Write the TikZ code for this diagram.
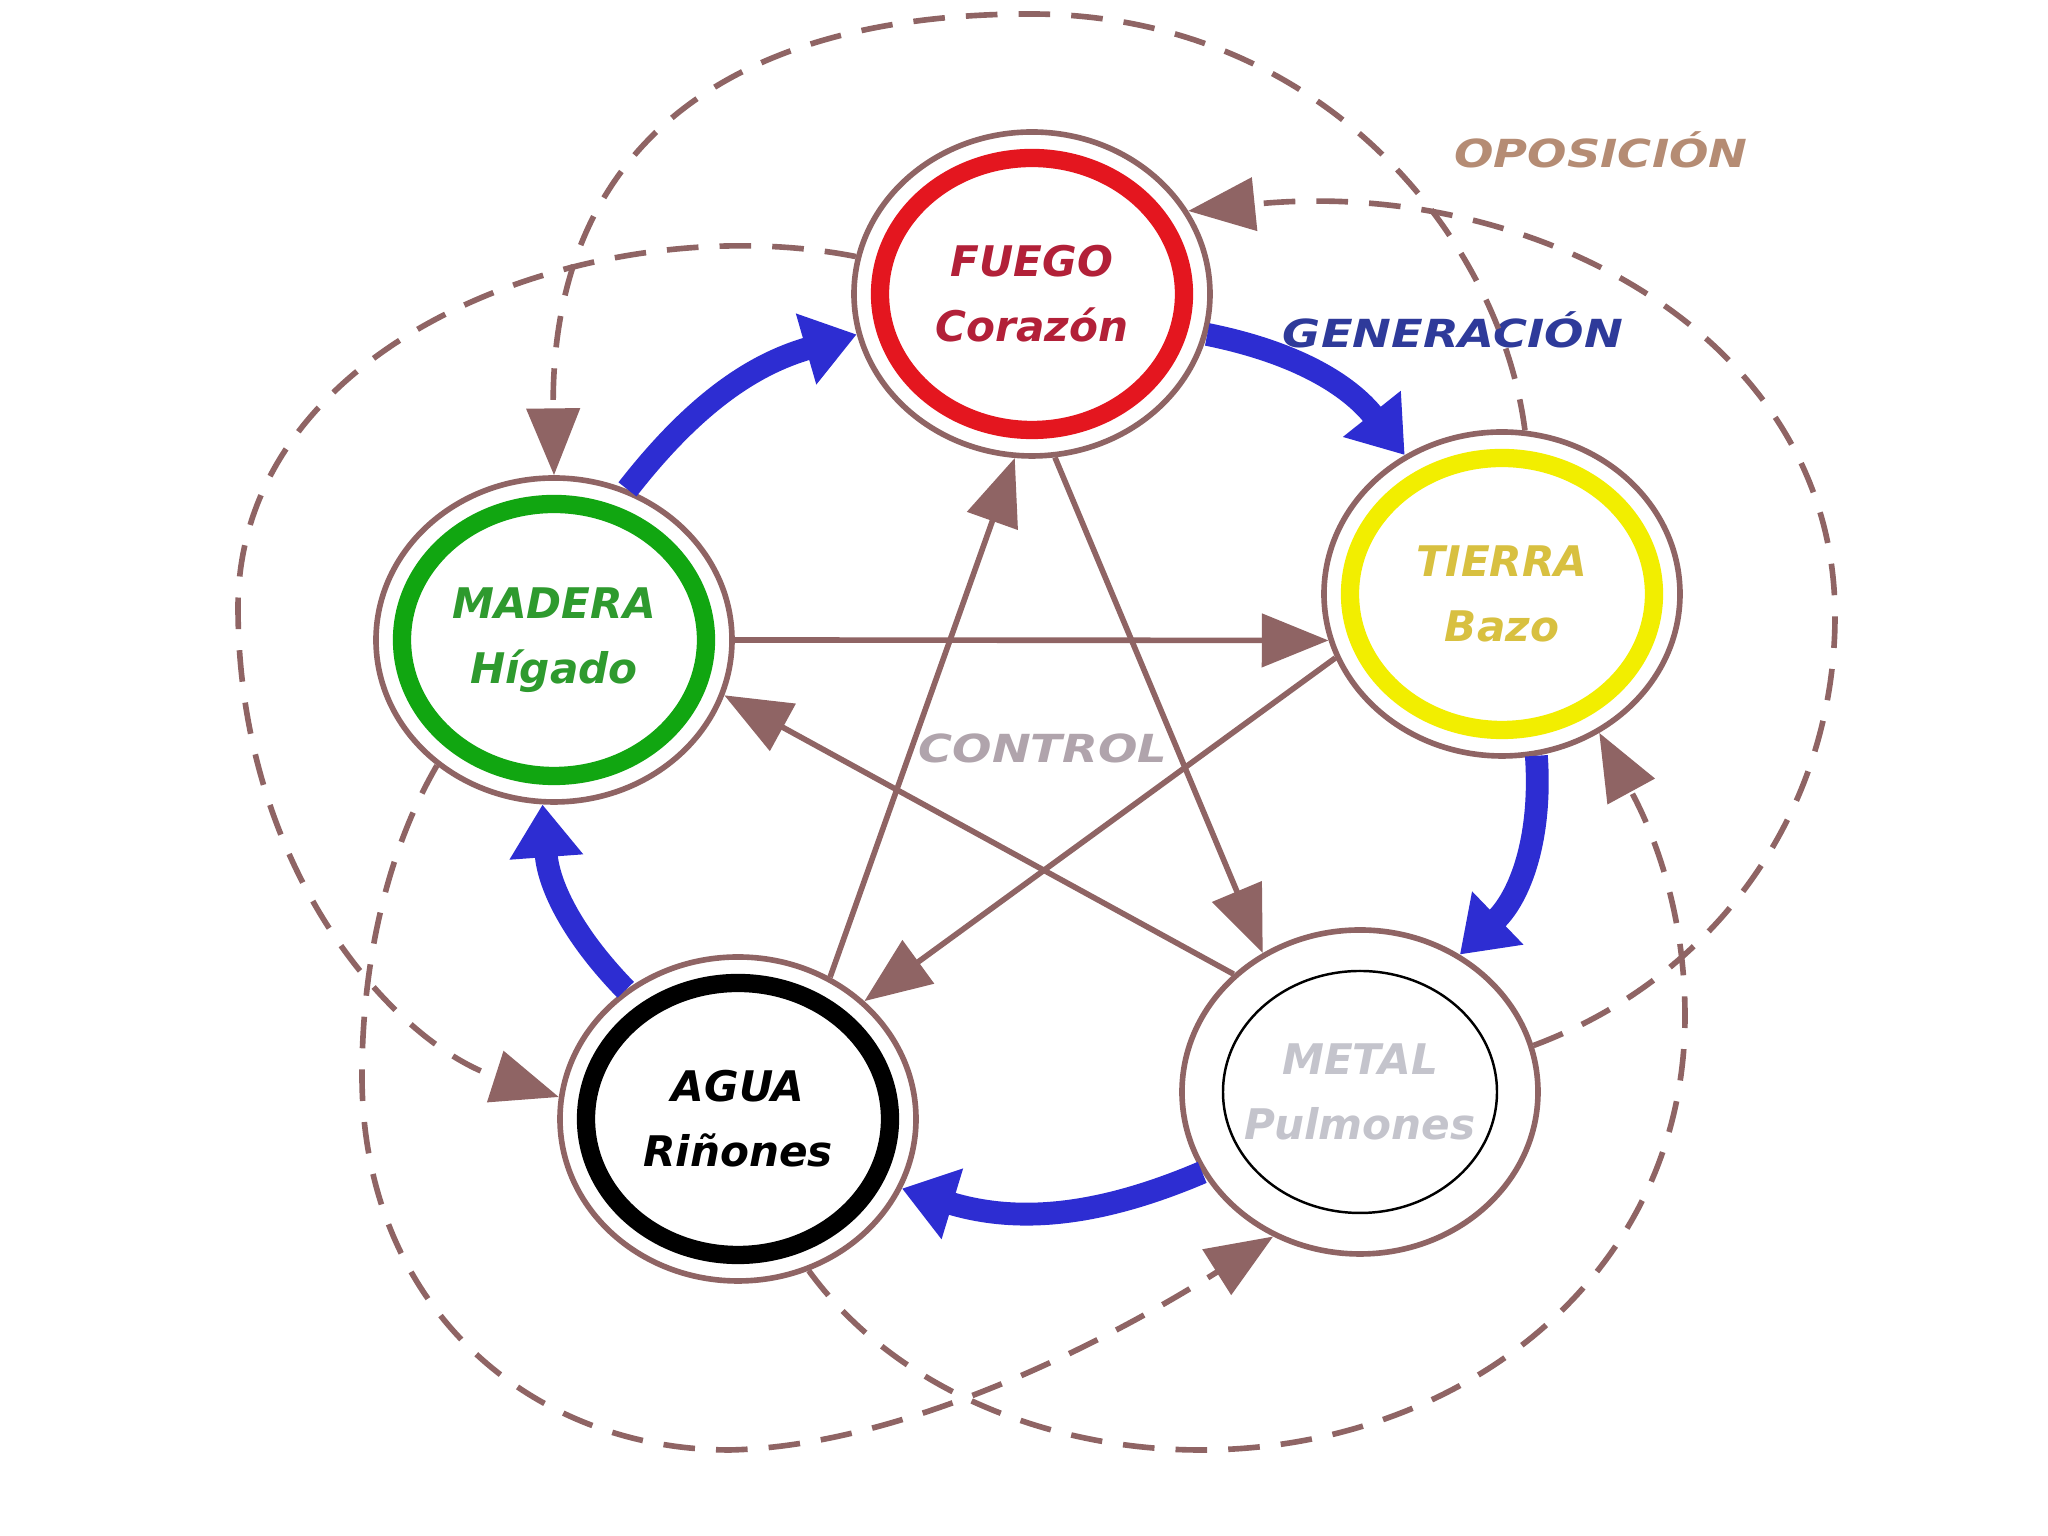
\documentclass[tikz,border=0pt]{standalone}
\usepackage{fontspec}
\setmainfont{DejaVu Sans}
\newfontfamily\widefont[FakeStretch=1.2]{DejaVu Sans}
\usetikzlibrary{arrows.meta, shapes.geometric}
\definecolor{linebrown}{RGB}{143,100,100}
\definecolor{genblue}{RGB}{45,45,210}
\definecolor{fuegotext}{RGB}{178,32,56}
\definecolor{fuegoring}{RGB}{228,22,31}
\definecolor{maderatext}{RGB}{46,154,46}
\definecolor{maderaring}{RGB}{17,166,17}
\definecolor{tierratext}{RGB}{216,192,64}
\definecolor{tierraring}{RGB}{242,238,0}
\definecolor{metaltext}{RGB}{196,196,204}
\definecolor{gentext}{RGB}{46,58,154}
\definecolor{opotext}{RGB}{181,140,116}
\definecolor{ctrltext}{RGB}{176,164,172}

\begin{document}
\begin{tikzpicture}[
    elem/.style={ellipse, draw=linebrown, line width=1.6pt, minimum width=3.56cm, minimum height=3.24cm,
        inner sep=0pt, align=center, font=\fontsize{12}{18.5}\selectfont\bfseries\itshape},
    ring/.style={line width=5.2pt},
    gen/.style={genblue, line width=6.5pt, -{Triangle[length=15pt, width=20pt]}},
    ctrl/.style={linebrown, line width=1.6pt, -{Triangle[length=19pt, width=15pt]}},
    opp/.style={linebrown, line width=1.6pt, dash pattern=on 9pt off 6pt, -{Triangle[length=19pt, width=15pt]}},
    tag/.style={font=\widefont\fontsize{11}{14}\selectfont\bfseries\itshape},
]
\fill[white] (0,0) rectangle (20.48,15.36);
\useasboundingbox (0,0) rectangle (20.48,15.36);

% ============================================================
% ELEMENTS
% ============================================================
\node[elem, text=fuegotext] (fuego) at (10.32,12.42) {FUEGO\\Corazón};
\node[elem, text=tierratext] (tierra) at (15.02,9.42) {TIERRA\\Bazo};
\node[elem, text=metaltext] (metal) at (13.60,4.44) {METAL\\Pulmones};
\node[elem, text=black] (agua) at (7.38,4.17) {AGUA\\Riñones};
\node[elem, text=maderatext] (madera) at (5.54,8.96) {MADERA\\Hígado};

% Inner rings
\draw[ring, fuegoring] (fuego.center) ellipse [x radius=1.52cm, y radius=1.36cm];
\draw[ring, tierraring] (tierra.center) ellipse [x radius=1.52cm, y radius=1.36cm];
\draw[ring, black] (agua.center) ellipse [x radius=1.52cm, y radius=1.36cm];
\draw[ring, maderaring] (madera.center) ellipse [x radius=1.52cm, y radius=1.36cm];
\draw[black, line width=0.7pt] (metal.center) ellipse [x radius=1.37cm, y radius=1.21cm];

% ============================================================
% LABELS
% ============================================================
\node[tag, text=gentext] (lblgen) at (14.53,12.06) {GENERACIÓN};
\node[tag, text=opotext] (lblopo) at (16.01,13.86) {OPOSICIÓN};
\node[tag, text=ctrltext] (lblctrl) at (10.43,7.88) {CONTROL};

% --- Generation cycle ---
\draw[gen] (fuego.-13) to[bend left=20] (tierra.125);
\draw[gen] (tierra.-78) to[bend left=25] (metal.54);
\draw[gen] (metal.207) to[bend left=20] (agua.-23);
\draw[gen] (agua.131) to[bend left=20] (madera.266);
\draw[gen] (madera.64) to[bend left=18] (fuego.193);

% --- Control star ---
\draw[ctrl] (agua.57) -- (fuego.264);
\draw[ctrl] (fuego.278) -- (metal.125);
\draw[ctrl] (madera.0) -- (tierra.195);
\draw[ctrl] (tierra.201) -- (agua.43);
\draw[ctrl] (metal.137) -- (madera.-18);

% --- Opposition arcs ---
% Tierra to Madera
\draw[opp] (tierra.82) .. controls (15.0,13.0) and (13.2,15.22) .. (10.3,15.22)
    .. controls (7.3,15.22) and (5.5,13.9) .. (madera.90);
% Metal to Fuego
\draw[opp] (metal.15) .. controls (17.2,5.6) and (18.35,7.3) .. (18.35,9.2)
    .. controls (18.35,12.0) and (15.3,13.6) .. (fuego.28);
% Agua to Tierra
\draw[opp] (agua.-65) .. controls (9.0,1.4) and (10.6,0.86) .. (12.0,0.86)
    .. controls (14.6,0.86) and (16.85,2.6) .. (16.85,5.2)
    .. controls (16.85,6.3) and (16.5,7.1) .. (tierra.-55);
% Madera to Metal
\draw[opp] (madera.227) .. controls (3.9,6.9) and (3.62,5.8) .. (3.62,4.6)
    .. controls (3.62,2.3) and (5.3,0.86) .. (7.3,0.86)
    .. controls (9.0,0.9) and (11.0,1.9) .. (metal.239);
% Fuego to Agua
\draw[opp] (fuego.168) .. controls (6.0,13.3) and (2.4,12.0) .. (2.38,9.3)
    .. controls (2.38,6.6) and (4.0,4.9) .. (agua.173);

\end{tikzpicture}
\end{document}
